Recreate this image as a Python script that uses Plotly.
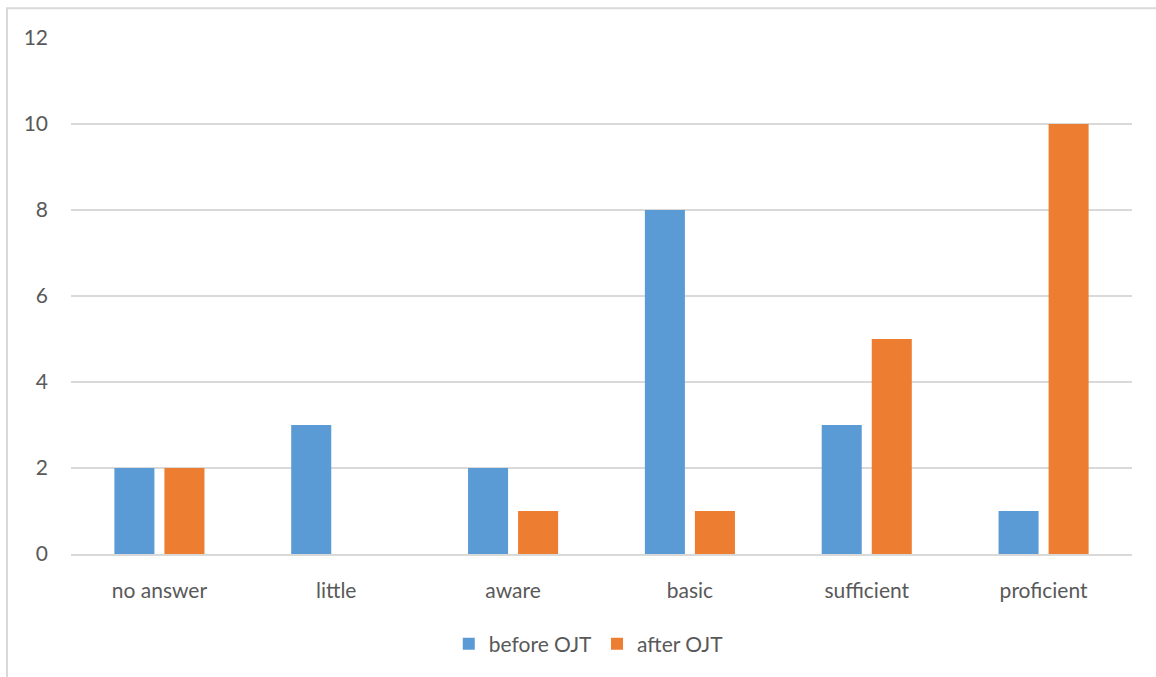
import plotly.graph_objects as go

categories = ["no answer", "little", "aware", "basic", "sufficient", "proficient"]
before_ojt = [2, 3, 2, 8, 3, 1]
after_ojt = [2, 0, 1, 1, 5, 10]

BLUE = "#5B9BD5"
ORANGE = "#ED7D31"
TEXT = "#595959"
GRID = "#D9D9D9"
FONT = "Lato, 'Open Sans', sans-serif"
FS = 21

fig = go.Figure()
fig.add_trace(go.Bar(name="before OJT", x=categories, y=before_ojt,
                     marker=dict(color=BLUE, line=dict(width=0))))
fig.add_trace(go.Bar(name="after OJT", x=categories, y=after_ojt,
                     marker=dict(color=ORANGE, line=dict(width=0))))

W, H = 1156, 677
ml, mr, mt, mb = 71, 24, 38, 119
pw, ph = W - ml - mr, H - mt - mb

# outer chart frame (light grey border), right and bottom edges run off the page
fx0 = (7 - ml) / pw
fy1 = 1 + (mt - 8) / ph
fx1 = 1 + (mr + 20) / pw
fy0 = -(mb + 20) / ph
fig.add_shape(type="rect", xref="paper", yref="paper",
              x0=fx0, x1=fx1, y0=fy0, y1=fy1,
              line=dict(color=GRID, width=2), fillcolor="rgba(0,0,0,0)", layer="below")

fig.update_layout(
    width=W, height=H,
    margin=dict(l=ml, r=mr, t=mt, b=mb, pad=0),
    paper_bgcolor="white", plot_bgcolor="white",
    barmode="group", bargap=0.434, bargroupgap=0.2,
    font=dict(family=FONT, size=FS, color=TEXT),
    showlegend=True,
    legend=dict(orientation="h", x=0.488, xanchor="center", y=-0.135, yanchor="top",
                font=dict(family=FONT, size=FS, color=TEXT),
                itemwidth=30, traceorder="normal"),
    xaxis=dict(showgrid=False, showline=True, linecolor=GRID, linewidth=1.5,
               ticks="", ticklabelstandoff=17, tickfont=dict(size=FS, color=TEXT)),
    yaxis=dict(range=[0, 12], dtick=2, showgrid=True, gridcolor=GRID, gridwidth=1.5,
               zeroline=False, showline=False, ticks="", ticklabelstandoff=22,
               tickfont=dict(size=FS, color=TEXT)),
)

fig.write_html("out.html")
